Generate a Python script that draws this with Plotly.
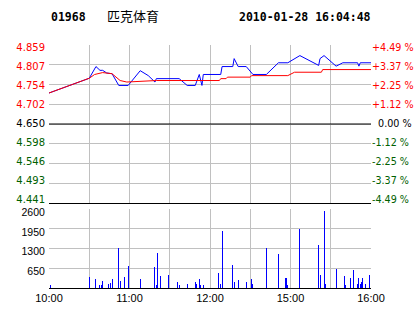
import plotly.graph_objects as go

# ---------------- data ----------------
stock_code = "01968"
stock_name = "匹克体育"
timestamp = "2010-01-28 16:04:48"
prev_close = 4.650

price_ticks = [4.441, 4.493, 4.546, 4.598, 4.650, 4.702, 4.754, 4.807, 4.859]
pct_ticks = [-4.49, -3.37, -2.25, -1.12, 0.00, 1.12, 2.25, 3.37, 4.49]
vol_ticks = [650, 1300, 1950, 2600]

# trading minutes from 10:00 (lunch break 12:30-14:30 removed)
time_tick_minutes = [0, 30, 60, 90, 120, 150, 180, 210, 240]
time_tick_labels = ["10:00", "", "11:00", "", "12:00", "", "15:00", "", "16:00"]

# last price (blue)
price_min = [0, 30, 35, 38, 40, 43, 47, 52, 59, 68, 74, 79, 80, 97, 103, 109, 112,
             114, 115, 128, 129, 137, 138, 141, 147, 152, 162, 171, 178, 187, 201,
             202, 205, 214, 219, 230, 231, 232, 240]
price_val = [4.732, 4.771, 4.802, 4.792, 4.792, 4.785, 4.783, 4.752, 4.752, 4.791,
             4.778, 4.761, 4.770, 4.770, 4.752, 4.752, 4.781, 4.752, 4.781, 4.781,
             4.802, 4.802, 4.823, 4.802, 4.802, 4.781, 4.781, 4.812, 4.812, 4.831,
             4.805, 4.823, 4.831, 4.803, 4.812, 4.812, 4.803, 4.812, 4.812]

# average price (red)
avg_min = [0, 30, 34, 40, 47, 53, 58, 78, 80, 127, 128, 132, 133, 150, 151, 178,
           183, 203, 204, 240]
avg_val = [4.732, 4.771, 4.781, 4.786, 4.783, 4.765, 4.761, 4.763, 4.765, 4.765,
           4.770, 4.770, 4.774, 4.774, 4.778, 4.778, 4.787, 4.787, 4.794, 4.794]

# volume per minute
vol_min = [1, 30, 35, 38, 39, 40, 44, 46, 47, 52, 53, 56, 59, 68, 79, 80, 81, 83,
           89, 96, 97, 103, 109, 110, 112, 113, 115, 126, 128, 129, 137, 138, 141,
           147, 151, 152, 162, 171, 176, 177, 178, 187, 201, 202, 205, 206, 214,
           220, 221, 225, 227, 230, 231, 232, 233, 234, 236, 239]
vol_val = [110, 350, 300, 110, 110, 240, 140, 170, 300, 1330, 240, 370, 735, 300,
           700, 100, 1165, 400, 440, 210, 110, 140, 210, 140, 300, 90, 90, 505, 140,
           1890, 770, 210, 250, 210, 300, 140, 1330, 1130, 340, 340, 100, 1960,
           1430, 440, 2550, 140, 640, 400, 110, 340, 600, 140, 340, 140, 210, 340,
           140, 440]

# ---------------- styling ----------------
RED = "#FF0000"
GREEN = "#006000"
BLACK = "#000000"
BLUE = "#0000FF"
GRID = "#C0C0C0"
LFONT = dict(family="DejaVu Sans", size=10, color=BLACK)
RFONT = dict(family="DejaVu Sans", size=9.6, color=BLACK)

# labels of the price panel sit on a slightly tighter spacing than the grid lines
LABEL_PAD_TOP = 2.3 / 152.4      # fraction of label span
LABEL_PAD_BOT = 3.3 / 152.4


def padded(lo, hi):
    span = hi - lo
    return [lo - span * LABEL_PAD_BOT, hi + span * LABEL_PAD_TOP]


def colored(text, value, ref):
    if value > ref + 1e-9:
        c = RED
    elif value < ref - 1e-9:
        c = GREEN
    else:
        c = BLACK
    return f'<span style="color:{c}">{text}</span>'


price_text = [colored(f"{v:.3f}", v, prev_close) for v in price_ticks]
pct_text = []
for v in pct_ticks:
    if v > 0:
        s = f"+{v:.2f} %"
    elif v < 0:
        s = f"-{abs(v):.2f} %"
    else:
        s = f"\u2007{v:.2f} %"
    pct_text.append(colored(s, v, 0))

pct_series = [(p - prev_close) / prev_close * 100 for p in price_val]

fig = go.Figure()
fig.add_trace(go.Scatter(x=price_min, y=price_val, mode="lines",
                         line=dict(color=BLUE, width=1), xaxis="x", yaxis="y",
                         hoverinfo="skip", showlegend=False))
fig.add_trace(go.Scatter(x=avg_min, y=avg_val, mode="lines",
                         line=dict(color=RED, width=1), xaxis="x", yaxis="y",
                         hoverinfo="skip", showlegend=False))
# invisible carriers for the label axes
fig.add_trace(go.Scatter(x=price_min, y=pct_series, mode="lines",
                         line=dict(color="rgba(0,0,0,0)", width=0), xaxis="x", yaxis="y3",
                         hoverinfo="skip", showlegend=False))
fig.add_trace(go.Scatter(x=price_min, y=price_val, mode="lines",
                         line=dict(color="rgba(0,0,0,0)", width=0), xaxis="x", yaxis="y4",
                         hoverinfo="skip", showlegend=False))
fig.add_trace(go.Bar(x=vol_min, y=vol_val, width=0.75,
                     marker=dict(color=BLUE, line=dict(width=0)),
                     xaxis="x2", yaxis="y2", hoverinfo="skip", showlegend=False))

xcommon = dict(range=[0, 240], tickmode="array", tickvals=time_tick_minutes,
               showgrid=True, gridcolor=GRID, gridwidth=1, zeroline=False,
               showline=True, linecolor=BLACK, linewidth=1, ticks="",
               automargin=False)

fig.update_layout(
    width=414, height=314, autosize=False,
    margin=dict(l=49, r=43, t=45, b=26, pad=0),
    paper_bgcolor="white", plot_bgcolor="white",
    bargap=0,
    xaxis=dict(**xcommon, anchor="y", showticklabels=False),
    xaxis2=dict(**xcommon, anchor="y2", ticktext=time_tick_labels,
                tickfont=dict(family="Liberation Sans", size=11, color=BLACK)),
    # price grid axis (no labels)
    yaxis=dict(domain=[0.3498, 1.0], range=[price_ticks[0], price_ticks[-1]],
               tickmode="array", tickvals=price_ticks, showticklabels=False,
               showgrid=True, gridcolor=GRID, zeroline=False, showline=False,
               ticks="", automargin=False),
    # left price labels
    yaxis4=dict(overlaying="y", side="left", anchor="x",
                range=padded(price_ticks[0], price_ticks[-1]),
                tickmode="array", tickvals=price_ticks, ticktext=price_text,
                showgrid=False, zeroline=False, showline=False,
                ticks="outside", ticklen=1, tickcolor="rgba(0,0,0,0)",
                tickfont=LFONT, automargin=False),
    # right percent labels
    yaxis3=dict(overlaying="y", side="right", anchor="x",
                range=padded(pct_ticks[0], pct_ticks[-1]),
                tickmode="array", tickvals=pct_ticks, ticktext=pct_text,
                showgrid=False, zeroline=False, showline=False,
                ticks="", tickfont=RFONT, automargin=False),
    yaxis2=dict(domain=[0.0, 0.3239], range=[0, vol_ticks[-1]],
                tickmode="array", tickvals=vol_ticks,
                ticktext=[str(v) for v in vol_ticks],
                showgrid=True, gridcolor=GRID, zeroline=False, showline=False,
                ticks="outside", ticklen=1, tickcolor="rgba(0,0,0,0)",
                ticklabelshift=3, automargin=False,
                tickfont=dict(family="Liberation Sans", size=10.5, color=BLACK)),
    shapes=[dict(type="line", xref="x domain", yref="y", x0=0, x1=1,
                 y0=prev_close, y1=prev_close, line=dict(color=BLACK, width=1))],
)


def px_to_paper_x(px):
    return (px - 49) / 322


def px_to_paper_y(py):
    return (288 - py) / 243


fig.add_annotation(text=f"<b>{stock_code}</b>", xref="paper", yref="paper",
                   x=px_to_paper_x(49), y=px_to_paper_y(17), xanchor="left", yanchor="middle",
                   showarrow=False, font=dict(family="DejaVu Sans Mono", size=11.5, color=BLACK))
fig.add_annotation(text=stock_name, xref="paper", yref="paper",
                   x=px_to_paper_x(105), y=px_to_paper_y(16), xanchor="left", yanchor="middle",
                   showarrow=False, font=dict(family="Noto Sans CJK SC", size=13, color=BLACK))
fig.add_annotation(text=f"<b>{timestamp}</b>", xref="paper", yref="paper",
                   x=px_to_paper_x(237), y=px_to_paper_y(17), xanchor="left", yanchor="middle",
                   showarrow=False, font=dict(family="DejaVu Sans Mono", size=11.5, color=BLACK))

fig.write_html("out.html", config={"displayModeBar": False, "staticPlot": True})
